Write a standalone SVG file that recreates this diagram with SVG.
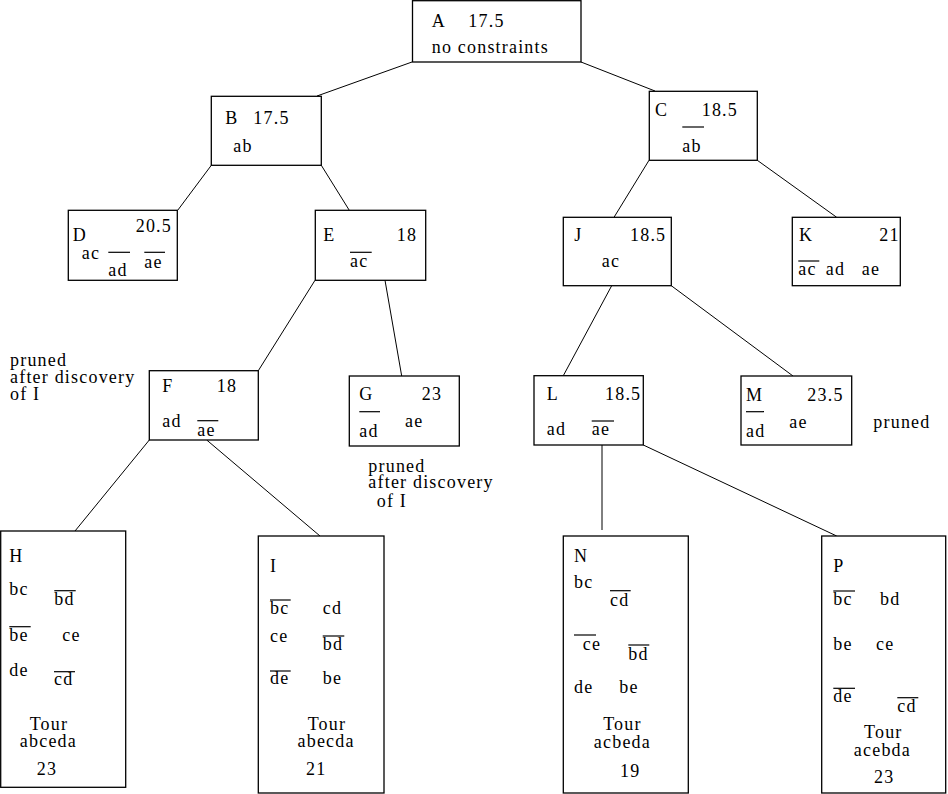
<svg xmlns="http://www.w3.org/2000/svg" width="948" height="794" viewBox="0 0 948 794">
<style>
.t{font-family:"Liberation Serif","Times New Roman",serif;font-size:18px;letter-spacing:1.2px;fill:#000}
.m{text-anchor:middle}
.box{fill:#fff;stroke:#000;stroke-width:1.3}
.ov{stroke:#000;stroke-width:1.2}
.edge line{stroke:#000;stroke-width:1}
</style>
<rect width="948" height="794" fill="#fff"/>
<g id="connectors" class="edge">
<line x1="412" y1="62" x2="317" y2="96"/>
<line x1="581" y1="62" x2="655" y2="91"/>
<line x1="211.3" y1="165.3" x2="177.7" y2="210.3"/>
<line x1="321.3" y1="165.3" x2="349.3" y2="210.3"/>
<line x1="649" y1="160.3" x2="614" y2="217.3"/>
<line x1="757.3" y1="160.3" x2="836.7" y2="217.3"/>
<line x1="315" y1="280.3" x2="258.3" y2="370.7"/>
<line x1="385" y1="280.3" x2="401.7" y2="376"/>
<line x1="149.3" y1="440" x2="75" y2="531"/>
<line x1="206.7" y1="440" x2="320" y2="536"/>
<line x1="611.7" y1="285.7" x2="563.3" y2="375.7"/>
<line x1="671.3" y1="285.7" x2="793" y2="376"/>
<line x1="602" y1="445" x2="602" y2="530"/>
<line x1="643.3" y1="445" x2="836.7" y2="536"/>
</g>
<g id="A">
<rect class="box" x="412.5" y="0.7" width="168.5" height="61.3"/>
<text class="t" x="431.7" y="26.7">A</text>
<text class="t" x="468.3" y="26.7">17.5</text>
<text class="t" x="431.7" y="53.3">no constraints</text>
</g>
<g id="B">
<rect class="box" x="211.3" y="96.3" width="110" height="69"/>
<text class="t" x="225.3" y="124.3">B</text>
<text class="t" x="253.3" y="124.3">17.5</text>
<text class="t" x="233.3" y="151.7">ab</text>
</g>
<g id="C">
<rect class="box" x="649.3" y="91.3" width="108" height="69"/>
<text class="t" x="655" y="115.7">C</text>
<text class="t" x="701.7" y="115.7">18.5</text>
<text class="t" x="682.3" y="151.7">ab</text>
<line class="ov" x1="682.3" y1="127" x2="704" y2="127"/>
</g>
<g id="D">
<rect class="box" x="68.3" y="210.3" width="109" height="70"/>
<text class="t" x="72.7" y="240.7">D</text>
<text class="t" x="135.7" y="231.7">20.5</text>
<text class="t" x="81.7" y="259">ac</text>
<text class="t" x="108.3" y="276">ad</text>
<line class="ov" x1="108.3" y1="252.3" x2="130" y2="252.3"/>
<text class="t" x="144.3" y="267.7">ae</text>
<line class="ov" x1="144.3" y1="252.3" x2="165" y2="252.3"/>
</g>
<g id="E">
<rect class="box" x="315.3" y="210.3" width="110.4" height="70"/>
<text class="t" x="323.3" y="240.7">E</text>
<text class="t" x="396.7" y="240.7">18</text>
<text class="t" x="350" y="266.7">ac</text>
<line class="ov" x1="350" y1="252.3" x2="371.7" y2="252.3"/>
</g>
<g id="J">
<rect class="box" x="563.3" y="217.3" width="108" height="68.4"/>
<text class="t" x="574.3" y="240.7">J</text>
<text class="t" x="630" y="240.7">18.5</text>
<text class="t" x="601.7" y="266.7">ac</text>
</g>
<g id="K">
<rect class="box" x="792.3" y="217.3" width="108" height="68.4"/>
<text class="t" x="799" y="240.7">K</text>
<text class="t" x="879.3" y="240.7">21</text>
<text class="t" x="798.3" y="275">ac</text>
<line class="ov" x1="798.3" y1="261" x2="819.3" y2="261"/>
<text class="t" x="825.7" y="275">ad</text>
<text class="t" x="861.7" y="275">ae</text>
</g>
<g id="F">
<rect class="box" x="149.3" y="370.7" width="109" height="69.3"/>
<text class="t" x="162.3" y="391.7">F</text>
<text class="t" x="216.7" y="391.7">18</text>
<text class="t" x="162.3" y="427.3">ad</text>
<text class="t" x="197.3" y="435.7">ae</text>
<line class="ov" x1="197.3" y1="420.7" x2="218.3" y2="420.7"/>
</g>
<g id="G">
<rect class="box" x="349.3" y="376" width="110" height="70"/>
<text class="t" x="359.3" y="400">G</text>
<text class="t" x="421.7" y="400">23</text>
<text class="t" x="359.3" y="436.7">ad</text>
<line class="ov" x1="359.3" y1="411.7" x2="380" y2="411.7"/>
<text class="t" x="405" y="427.3">ae</text>
</g>
<g id="L">
<rect class="box" x="534" y="375.7" width="109.3" height="69.3"/>
<text class="t" x="546.7" y="400">L</text>
<text class="t" x="605" y="400">18.5</text>
<text class="t" x="546.7" y="435">ad</text>
<text class="t" x="591.7" y="435">ae</text>
<line class="ov" x1="591.7" y1="421" x2="614" y2="421"/>
</g>
<g id="M">
<rect class="box" x="741" y="376" width="110.7" height="69"/>
<text class="t" x="746" y="401">M</text>
<text class="t" x="807.3" y="401">23.5</text>
<text class="t" x="746" y="436.7">ad</text>
<line class="ov" x1="746" y1="411.7" x2="764" y2="411.7"/>
<text class="t" x="789.3" y="428.3">ae</text>
</g>
<g id="notes">
<text class="t" x="10" y="366">pruned</text>
<text class="t" x="10" y="382.7">after discovery</text>
<text class="t" x="10" y="400">of I</text>
<text class="t" x="368.3" y="471.7">pruned</text>
<text class="t" x="368.3" y="488.3">after discovery</text>
<text class="t" x="376.7" y="506.7">of I</text>
<text class="t" x="873.3" y="428.3">pruned</text>
</g>
<g id="H">
<rect class="box" x="0.7" y="531" width="125" height="256.3"/>
<text class="t" x="9.3" y="561.7">H</text>
<text class="t" x="9.3" y="595">bc</text>
<text class="t" x="54.3" y="605">bd</text>
<line class="ov" x1="54.3" y1="590.7" x2="75.7" y2="590.7"/>
<text class="t" x="9.3" y="641">be</text>
<line class="ov" x1="9.3" y1="626.7" x2="30.7" y2="626.7"/>
<text class="t" x="62.3" y="641">ce</text>
<text class="t" x="9.3" y="675.7">de</text>
<text class="t" x="54" y="685">cd</text>
<line class="ov" x1="54" y1="671.7" x2="75" y2="671.7"/>
<text class="t m" x="48.9" y="730">Tour</text>
<text class="t m" x="48.4" y="746.7">abceda</text>
<text class="t" x="36.7" y="775">23</text>
</g>
<g id="I">
<rect class="box" x="258.3" y="536" width="125.7" height="257"/>
<text class="t" x="270" y="571.7">I</text>
<text class="t" x="270" y="614.3">bc</text>
<line class="ov" x1="270" y1="600" x2="290.7" y2="600"/>
<text class="t" x="322.7" y="614.3">cd</text>
<text class="t" x="270" y="641.7">ce</text>
<text class="t" x="322.7" y="650">bd</text>
<line class="ov" x1="322.7" y1="636" x2="344.3" y2="636"/>
<text class="t" x="270" y="684.3">de</text>
<line class="ov" x1="270" y1="671" x2="290.7" y2="671"/>
<text class="t" x="322.7" y="684.3">be</text>
<text class="t m" x="326.9" y="730">Tour</text>
<text class="t m" x="326.1" y="746.7">abecda</text>
<text class="t" x="306" y="775">21</text>
</g>
<g id="N">
<rect class="box" x="563.3" y="536" width="125" height="257"/>
<text class="t" x="574" y="561.7">N</text>
<text class="t" x="574" y="587.7">bc</text>
<text class="t" x="610" y="605.7">cd</text>
<line class="ov" x1="610" y1="590.7" x2="630.7" y2="590.7"/>
<text class="t" x="582.7" y="650">ce</text>
<line class="ov" x1="574" y1="635" x2="596" y2="635"/>
<text class="t" x="628.3" y="660">bd</text>
<line class="ov" x1="628.3" y1="645" x2="649.3" y2="645"/>
<text class="t" x="574" y="693.3">de</text>
<text class="t" x="619.3" y="693.3">be</text>
<text class="t m" x="622.4" y="730">Tour</text>
<text class="t m" x="622.4" y="747.7">acbeda</text>
<text class="t" x="620" y="776.7">19</text>
</g>
<g id="P">
<rect class="box" x="821.7" y="536" width="124" height="257"/>
<text class="t" x="833.3" y="571.7">P</text>
<text class="t" x="833.3" y="605">bc</text>
<line class="ov" x1="833.3" y1="591" x2="855" y2="591"/>
<text class="t" x="880" y="605">bd</text>
<text class="t" x="833.3" y="650">be</text>
<text class="t" x="876" y="650">ce</text>
<text class="t" x="833.3" y="701.7">de</text>
<line class="ov" x1="833.3" y1="688.3" x2="855" y2="688.3"/>
<text class="t" x="897.3" y="711.7">cd</text>
<line class="ov" x1="897.3" y1="697.7" x2="918.3" y2="697.7"/>
<text class="t m" x="883.3" y="738.3">Tour</text>
<text class="t m" x="882.4" y="756">acebda</text>
<text class="t" x="874" y="783.3">23</text>
</g>
</svg>
